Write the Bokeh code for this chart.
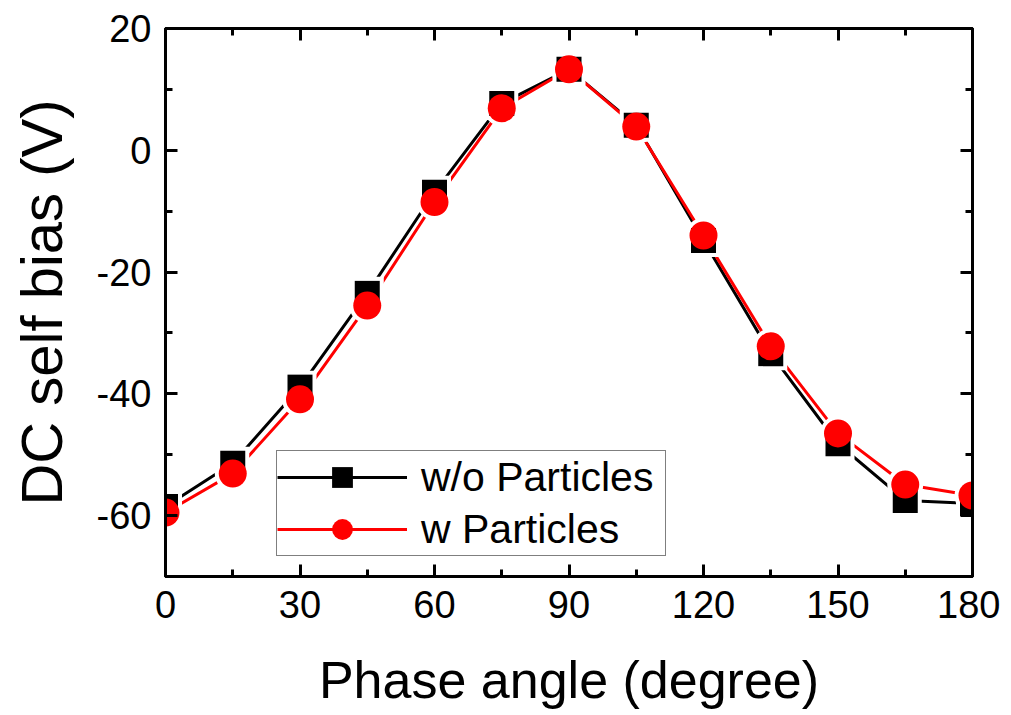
from bokeh.plotting import figure
from bokeh.models import (Range1d, FixedTicker, LinearAxis, Legend, LegendItem)
from bokeh.embed import file_html
from bokeh.resources import INLINE

# ---- data ----
phase = [0, 15, 30, 45, 60, 75, 90, 105, 120, 135, 150, 165, 180]
wo_particles = [-58.5, -51.4, -38.9, -23.5, -6.9, 7.7, 13.3, 4.1, -14.8, -33.4, -48.2, -57.5, -58.0]
w_particles = [-59.5, -53.1, -40.9, -25.5, -8.5, 6.9, 13.3, 3.9, -14.0, -32.2, -46.5, -54.9, -56.7]
x_ticks = [0, 30, 60, 90, 120, 150, 180]
x_minor = [15, 45, 75, 105, 135, 165]
y_ticks = [-60, -40, -20, 0, 20]
y_minor = [-70, -50, -30, -10, 10]
y_tick_labels = ["-60", "-40", "-20", "0", "20"]
series_labels = ["w/o Particles", "w Particles"]

FONT = "Liberation Sans"

p = figure(width=1000, height=712, output_backend="svg", toolbar_location=None,
           x_range=Range1d(0, 180), y_range=Range1d(-70, 20),
           min_border_left=165, min_border_right=28, min_border_top=28, min_border_bottom=136)
p.grid.visible = False
p.outline_line_color = "black"
p.outline_line_width = 3
p.background_fill_color = "white"
p.border_fill_color = "white"

xt = FixedTicker(ticks=x_ticks, minor_ticks=x_minor)
yt = FixedTicker(ticks=y_ticks, minor_ticks=y_minor)

def style(ax, ticks, show_labels):
    ax.axis_line_width = 3
    ax.axis_line_color = "black"
    ax.major_tick_in = 12
    ax.major_tick_out = 0
    ax.minor_tick_in = 7
    ax.minor_tick_out = 0
    ax.major_tick_line_width = 3
    ax.minor_tick_line_width = 3
    ax.major_label_text_font = FONT
    ax.major_label_text_color = "black"
    if show_labels:
        ax.major_label_text_font_size = "38px"
        ax.major_label_standoff = 14
    else:
        ax.major_label_overrides = {t: "" for t in ticks}
        ax.major_label_standoff = 0

p.xaxis.ticker = xt
p.yaxis.ticker = yt
style(p.xaxis[0], x_ticks, True)
style(p.yaxis[0], y_ticks, True)
p.yaxis.major_label_overrides = dict(zip(y_ticks, y_tick_labels))
p.xaxis.axis_label = "Phase angle (degree)"
p.yaxis.axis_label = "DC self bias (V)"
for ax in (p.xaxis[0], p.yaxis[0]):
    ax.axis_label_text_font = FONT
    ax.axis_label_text_font_style = "normal"
    ax.axis_label_text_color = "black"
p.xaxis.axis_label_text_font_size = "52px"
p.yaxis.axis_label_text_font_size = "58px"
p.xaxis.axis_label_standoff = 30
p.yaxis.axis_label_standoff = 20

top = LinearAxis(ticker=xt)
style(top, x_ticks, False)
p.add_layout(top, "above")
right = LinearAxis(ticker=yt)
style(right, y_ticks, False)
p.add_layout(right, "right")

l1 = p.line(phase, wo_particles, line_color="black", line_width=3)
l2 = p.line(phase, w_particles, line_color="red", line_width=3)
# white halos to give Origin-style gaps between line and marker
p.scatter(phase, wo_particles, marker="square", size=33, fill_color="white", line_color=None)
p.scatter(phase, w_particles, marker="circle", size=36, fill_color="white", line_color=None)
s1 = p.scatter(phase, wo_particles, marker="square", size=25, fill_color="black", line_color=None)
s2 = p.scatter(phase, w_particles, marker="circle", size=28, fill_color="red", line_color=None)

legend = Legend(items=[LegendItem(label=series_labels[0], renderers=[l1, s1]),
                       LegendItem(label=series_labels[1], renderers=[l2, s2])],
                location=(111, 20))
legend.label_text_font = FONT
legend.label_text_font_size = "41px"
legend.label_text_color = "black"
legend.glyph_width = 130
legend.glyph_height = 52
legend.label_height = 52
legend.label_width = 244
legend.label_standoff = 14
legend.padding = 0
legend.spacing = 0
legend.margin = 0
legend.border_line_color = "black"
legend.border_line_width = 1.5
legend.background_fill_alpha = 1
p.add_layout(legend, "center")

open("out.html", "w").write(file_html(p, INLINE))
